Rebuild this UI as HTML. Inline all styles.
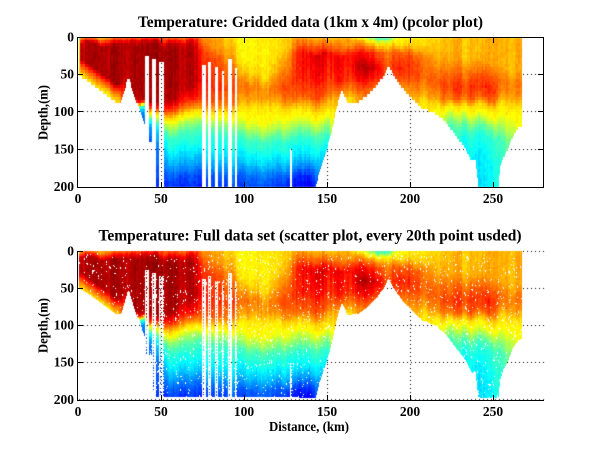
<!DOCTYPE html>
<html>
<head>
<meta charset="utf-8">
<style>
html,body{margin:0;padding:0;background:#fff;}
#wrap{position:relative;width:600px;height:451px;overflow:hidden;background:#fff;}
#c,#ov{position:absolute;left:0;top:0;}
#ov text{font-family:"Liberation Serif","Times New Roman",serif;font-weight:bold;fill:#000;}
</style>
</head>
<body>
<div id="wrap">
<canvas id="c" width="600" height="451"></canvas>
<svg id="ov" width="600" height="451" viewBox="0 0 600 451">
<g stroke="#000" stroke-width="1" fill="none" shape-rendering="crispEdges">
  <path d="M77.5 37.5H543.5V187.5H77.5Z"/>
  <path d="M161.5 187V182M244.5 187V182M327.5 187V182M410.5 187V182M493.5 187V182"/>
  <path d="M161.5 38V43M244.5 38V43M327.5 38V43M410.5 38V43M493.5 38V43"/>
  <path d="M78 74.5H83M78 111.5H83M78 149.5H83"/>
  <path d="M543 74.5H538M543 111.5H538M543 149.5H538"/>
  <path d="M77.5 251V401M77 400.5H544"/>
  <path d="M161.5 400V395M244.5 400V395M327.5 400V395M410.5 400V395M493.5 400V395"/>
  <path d="M78 251.5H83M78 288.5H83M78 325.5H83M78 362.5H83"/>
</g>
<text x="310.5" y="27" font-size="16" text-anchor="middle" textLength="345" lengthAdjust="spacingAndGlyphs">Temperature: Gridded data (1km x 4m) (pcolor plot)</text>
<text x="310" y="240.5" font-size="16" text-anchor="middle" textLength="423" lengthAdjust="spacingAndGlyphs">Temperature: Full data set (scatter plot, every 20th point usded)</text>
<g font-size="13.5" text-anchor="middle">
  <text x="78" y="203">0</text><text x="161" y="203">50</text><text x="244" y="203">100</text>
  <text x="327" y="203">150</text><text x="410" y="203">200</text><text x="493" y="203">250</text>
  <text x="78" y="416">0</text><text x="161" y="416">50</text><text x="244" y="416">100</text>
  <text x="327" y="416">150</text><text x="410" y="416">200</text><text x="493" y="416">250</text>
</g>
<g font-size="13.5" text-anchor="end">
  <text x="74" y="41.5">0</text><text x="74" y="78.5">50</text><text x="74" y="116">100</text>
  <text x="74" y="153.5">150</text><text x="74" y="191">200</text>
  <text x="74" y="255.5">0</text><text x="74" y="292.5">50</text><text x="74" y="329.5">100</text>
  <text x="74" y="366.5">150</text><text x="74" y="404">200</text>
</g>
<text transform="translate(47.5,112.5) rotate(-90)" font-size="14" text-anchor="middle" textLength="55" lengthAdjust="spacingAndGlyphs">Depth,(m)</text>
<text transform="translate(47.5,325.5) rotate(-90)" font-size="14" text-anchor="middle" textLength="55" lengthAdjust="spacingAndGlyphs">Depth,(m)</text>
<text x="309" y="431" font-size="14" text-anchor="middle" textLength="80" lengthAdjust="spacingAndGlyphs">Distance, (km)</text>
</svg>
</div>
<script>
(function(){
var cv=document.getElementById('c');var ctx=cv.getContext('2d');
var W=600,H=451;
var img=ctx.createImageData(W,H);var D=img.data;
for(var i=0;i<D.length;i+=4){D[i]=255;D[i+1]=255;D[i+2]=255;D[i+3]=255;}
function setPx(x,y,r,g,b){if(x<0||y<0||x>=W||y>=H)return;var i=(y*W+x)*4;D[i]=r;D[i+1]=g;D[i+2]=b;D[i+3]=255;}
function mulberry32(a){return function(){a|=0;a=a+0x6D2B79F5|0;var t=Math.imul(a^a>>>15,1|a);t=t+Math.imul(t^t>>>7,61|t)^t;return((t^t>>>14)>>>0)/4294967296;};}
function jet(v){v=Math.max(0,Math.min(1,v));function c(t){return Math.max(0,Math.min(1,1.5-Math.abs(t)));}
 return [Math.round(255*c(4*v-3)),Math.round(255*c(4*v-2)),Math.round(255*c(4*v-1))];}

/* ---- grid (drawn beneath data) ---- */
var xt=[161,244,327,410,493];
function hdots(r,c0,c1){for(var c=c0;c<=c1;c+=4)setPx(c,r,0,0,0);}
function vdots(c,r0,r1){for(var r=r0;r<=r1;r+=4)setPx(c,r,0,0,0);}
[74,111,149].forEach(function(r){hdots(r,79,542);});
xt.forEach(function(c){vdots(c,39,186);});
[251,288,325,362,399].forEach(function(r){hdots(r,79,543);});
xt.forEach(function(c){vdots(c,252,399);});

/* ---- temperature profiles (v in jet 0..1) ---- */
var P=[
[0,[[0,0.68],[4,0.8],[10,0.93],[30,0.95],[200,0.95]]],
[8,[[0,0.74],[4,0.85],[10,0.95],[200,0.96]]],
[28,[[0,0.82],[5,0.9],[12,0.96],[200,0.96]]],
[34,[[0,0.85],[6,0.93],[12,0.96],[80,0.95],[86,0.85],[91,0.5],[97,0.25],[120,0.17],[200,0.14]]],
[40,[[0,0.86],[7,0.93],[14,0.96],[84,0.95],[89,0.82],[93,0.45],[100,0.24],[120,0.17],[200,0.14]]],
[42.5,[[0,0.86],[8,0.93],[15,0.96],[86,0.94],[95,0.85],[102,0.62],[110,0.38],[120,0.22],[140,0.16],[200,0.13]]],
[48,[[0,0.86],[8,0.94],[15,0.96],[88,0.94],[97,0.85],[105,0.65],[115,0.45],[125,0.3],[150,0.2],[200,0.13]]],
[55,[[0,0.84],[8,0.93],[15,0.96],[82,0.95],[95,0.87],[102,0.78],[112,0.64],[122,0.52],[137,0.4],[150,0.35],[168,0.27],[185,0.18],[200,0.13]]],
[66,[[0,0.83],[8,0.92],[15,0.95],[68,0.94],[86,0.87],[95,0.78],[104,0.65],[113,0.54],[130,0.42],[145,0.36],[165,0.28],[185,0.18],[200,0.14]]],
[74,[[0,0.8],[10,0.86],[20,0.9],[60,0.92],[85,0.87],[97,0.77],[105,0.65],[115,0.53],[130,0.42],[148,0.36],[168,0.27],[185,0.18],[200,0.14]]],
[80,[[0,0.76],[15,0.78],[30,0.85],[70,0.87],[88,0.83],[98,0.74],[106,0.64],[116,0.52],[132,0.41],[150,0.35],[170,0.27],[186,0.18],[200,0.15]]],
[92,[[0,0.7],[20,0.74],[40,0.8],[70,0.85],[90,0.79],[100,0.7],[110,0.6],[120,0.5],[135,0.4],[155,0.34],[172,0.27],[188,0.19],[200,0.16]]],
[100,[[0,0.64],[30,0.66],[50,0.76],[65,0.82],[85,0.75],[98,0.66],[110,0.62],[122,0.54],[135,0.44],[150,0.37],[168,0.3],[185,0.2],[200,0.17]]],
[112,[[0,0.66],[20,0.64],[50,0.68],[65,0.76],[80,0.75],[95,0.66],[112,0.62],[124,0.54],[138,0.43],[155,0.36],[170,0.29],[185,0.21],[200,0.17]]],
[124,[[0,0.7],[20,0.7],[45,0.78],[70,0.84],[88,0.77],[100,0.67],[114,0.6],[126,0.52],[140,0.42],[158,0.35],[175,0.27],[188,0.18],[200,0.15]]],
[132,[[0,0.76],[10,0.8],[25,0.89],[60,0.89],[85,0.83],[98,0.72],[110,0.63],[125,0.52],[142,0.4],[160,0.34],[177,0.25],[190,0.15],[200,0.12]]],
[140,[[0,0.74],[10,0.8],[25,0.91],[55,0.89],[80,0.83],[95,0.72],[108,0.63],[122,0.52],[140,0.4],[158,0.33],[175,0.22],[190,0.12],[200,0.1]]],
[150,[[0,0.71],[10,0.79],[25,0.91],[60,0.87],[80,0.82],[95,0.72],[108,0.62],[122,0.5],[140,0.38],[160,0.3],[200,0.2]]],
[158,[[0,0.73],[12,0.79],[25,0.89],[55,0.87],[70,0.79],[80,0.7],[200,0.6]]],
[162,[[0,0.76],[12,0.8],[25,0.91],[55,0.89],[70,0.81],[86,0.7],[200,0.68]]],
[172,[[0,0.6],[8,0.74],[20,0.87],[40,0.93],[60,0.87],[80,0.76],[200,0.72]]],
[180,[[0,0.45],[8,0.7],[20,0.85],[40,0.92],[55,0.87],[70,0.78],[200,0.75]]],
[187,[[0,0.45],[8,0.68],[20,0.8],[35,0.84],[200,0.82]]],
[194,[[0,0.65],[10,0.7],[22,0.84],[40,0.89],[55,0.84],[70,0.76],[200,0.72]]],
[205,[[0,0.68],[15,0.73],[28,0.83],[50,0.85],[70,0.79],[90,0.7],[200,0.66]]],
[215,[[0,0.7],[20,0.73],[40,0.78],[60,0.83],[80,0.78],[95,0.68],[110,0.6],[200,0.55]]],
[225,[[0,0.72],[30,0.74],[50,0.8],[70,0.85],[85,0.79],[95,0.66],[108,0.52],[120,0.44],[135,0.38],[200,0.33]]],
[238,[[0,0.73],[30,0.74],[50,0.82],[65,0.87],[82,0.83],[95,0.69],[108,0.58],[120,0.48],[135,0.39],[160,0.34],[200,0.32]]],
[248,[[0,0.74],[35,0.75],[55,0.83],[70,0.88],[85,0.83],[98,0.69],[110,0.6],[122,0.48],[138,0.38],[170,0.34],[200,0.33]]],
[256,[[0,0.74],[40,0.74],[60,0.8],[75,0.78],[90,0.69],[105,0.63],[120,0.55],[140,0.45],[200,0.38]]],
[267.5,[[0,0.74],[45,0.74],[62,0.79],[78,0.77],[92,0.69],[105,0.64],[120,0.6],[200,0.55]]]
];
function ip(p,d){if(d<=p[0][0])return p[0][1];for(var i=1;i<p.length;i++){if(d<=p[i][0]){var a=p[i-1],b=p[i];return a[1]+(b[1]-a[1])*(d-a[0])/(b[0]-a[0]);}}return p[p.length-1][1];}
function field(x,d){var i=0;while(i<P.length-2&&x>P[i+1][0])i++;var a=P[i],b=P[i+1];var t=(x-a[0])/(b[0]-a[0]);t=Math.max(0,Math.min(1,t));return ip(a[1],d)*(1-t)+ip(b[1],d)*t;}
/* calibration: pull orange/red toward lighter orange, lift deep blues slightly */
function cal(v){
 var bump=v<0.62?0:v<0.70?(v-0.62)/0.08:v<0.87?1:v<0.95?(0.95-v)/0.08:0;
 v-=0.04*bump;
 if(v<0.45){v+=0.025*Math.min(1,(0.45-v)/0.08);}
 return v;}

var B=[[0.6,50],[3,53],[8,60],[14,70],[20,80],[23,85],[26,84],[28,70],[30,53],[31,55],[33,70],[35,85],[37,92],[38,100],[39,108],[40.3,115],[40.31,140],[44.7,140],[44.71,196],[142.5,197],[143.3,197],[145.3,178],[149.3,151],[152.3,129],[155.3,97],[157.3,80],[158.9,70],[160.3,75],[162.2,86],[169,84],[173.3,77],[179.3,64],[184.2,50],[186.8,37],[187.6,39],[190.2,50],[195.2,66],[201.2,80],[207.2,93],[215.2,100],[221.2,111],[227.2,129],[233.2,146],[237.2,164],[239.2,160],[240.2,180],[241.2,197],[253.2,197],[254.2,173],[256.2,160],[259.2,146],[262.2,129],[265.2,120],[267.2,118]];
function bottom(x){if(x<B[0][0]||x>B[B.length-1][0])return -1;for(var i=1;i<B.length;i++){if(x<=B[i][0]){var a=B[i-1],b=B[i];return a[1]+(b[1]-a[1])*(x-a[0])/(b[0]-a[0]);}}return -1;}
var G=[[40.3,42.7,25],[44.7,46.8,29],[48.5,52,33],[74.9,76.9,37],[78.3,79.9,33],[82.7,84.3,40],[86.7,87.9,45],[90.3,92.7,29],[94.3,95.9,41],[127.5,129,150]];
function gapAt(x,d){for(var i=0;i<G.length;i++){if(x>=G[i][0]&&x<G[i][1]&&d>G[i][2])return G[i];}return null;}

var rnd=mulberry32(12345);var NK=300;var n1=[],sh=[];
for(var k=0;k<NK;k++){n1.push(rnd()*2-1);sh.push(rnd()*2-1);}
function smooth(a,w){var o=[];for(var i=0;i<a.length;i++){var s=0,c=0;for(var j=-w;j<=w;j++){var q=i+j;if(q>=0&&q<a.length){s+=a[q];c++;}}o.push(s/c);}return o;}
var sm=smooth(n1,2);var sn1=[];for(var k=0;k<NK;k++)sn1.push(0.55*n1[k]+0.45*sm[k]*1.6);
var ssh=smooth(sh,2);
function hash(a,b){var h=Math.imul(a*374761393+b*668265263,1274126177);h=(h^(h>>>13))>>>0;return (h%10000)/10000;}
function T(x,d){var k=Math.max(0,Math.min(NK-1,Math.floor(x)));
 var v=field(x,d+ssh[k]*7)+sn1[k]*0.03;
 if(x<29){var b=bottom(x);var w=x<24?1:(29-x)/5;var s=Math.max(0,Math.min(1,1-(b-d)/22));v-=0.27*s*w;}
 return cal(v);}

var SX=1.6607,X0=78;
/* ---- top pcolor plot ---- */
for(var r=38;r<=186;r++){
 var d=(r+0.5-37.5)/0.746;var di=Math.floor(d/4);var dq=di*4+2;
 for(var c=78;c<=542;c++){
  var x=(c+0.5-X0)/SX;if(x<0.6||x>267.2)continue;
  var b=bottom(x);if(di*4>=b)continue;
  if(gapAt(x,d))continue;
  var xi=Math.floor(x);var xq=xi+0.5;
  var v=T(xq,dq)+(hash(xi,di)-0.5)*0.03;
  var col=jet(v);setPx(c,r,col[0],col[1],col[2]);
 }
}
/* ---- bottom scatter plot ---- */
var r3=mulberry32(4242);
for(var r=251;r<=399;r++){
 var d=(r+0.5-251.3)/0.7425;
 for(var c=78;c<=542;c++){
  var x=(c+0.5-X0)/SX;if(x<0.6||x>267.2)continue;
  var b=bottom(x);if(d>b)continue;
  var g=gapAt(x,d);
  if(g){var gc=Math.round(X0+g[0]*SX);if(((c-gc)%3)!==1||(r%3)===0||r3()<0.3)continue;}
  var xi=Math.floor(x);
  var v=T(x,d)+(hash(xi,Math.floor(d/3))-0.5)*0.03;
  var col=jet(v);setPx(c,r,col[0],col[1],col[2]);
 }
}
/* speckle */
var r2=mulberry32(777);
var colBias=[];for(var c=0;c<600;c++)colBias.push(r2());
for(var i=0;i<2800;i++){
 var c=78+Math.floor(r2()*465);var r=253+Math.floor(r2()*146);
 if(colBias[c]<0.45&&r2()<0.7)continue;
 var x=(c+0.5-X0)/SX;var d=(r+0.5-251.3)/0.7425;var b=bottom(x);
 if(b<0||d>b)continue;
 setPx(c,r,255,255,255);
 if(r2()<0.25)setPx(c,r+1,255,255,255);
}
ctx.putImageData(img,0,0);
})();
</script>
</body>
</html>
